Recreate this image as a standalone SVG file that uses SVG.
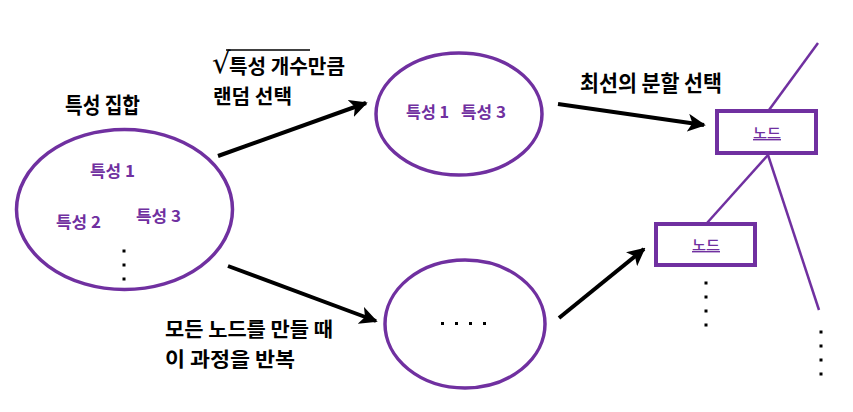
<svg xmlns="http://www.w3.org/2000/svg" width="853" height="412" viewBox="0 0 853 412">
<defs>
<style>
.ell{fill:none;stroke:#7030A0;stroke-width:3.5}
.box{fill:#fff;stroke:#7030A0;stroke-width:4}
.br{stroke:#7030A0;stroke-width:2.5;fill:none}
.arr{stroke:#000;stroke-width:4;fill:none;marker-end:url(#ah)}
.t{font-family:"Noto Sans CJK KR","Noto Sans",sans-serif;font-weight:bold;font-size:22px;fill:#000}
.t2{font-family:"Noto Sans CJK KR","Noto Sans",sans-serif;font-weight:bold;font-size:20px;fill:#000}
.p{font-family:"Noto Sans CJK KR","Noto Sans",sans-serif;font-weight:bold;font-size:16px;fill:#7030A0}
.n{font-family:"Noto Sans CJK KR","Noto Sans",sans-serif;font-weight:500;font-size:14px;fill:#7030A0;text-decoration:underline}
.dot{fill:#000}
</style>
<marker id="ah" viewBox="0 0 10 10" refX="9" refY="5" markerWidth="4.5" markerHeight="4.5" orient="auto" markerUnits="strokeWidth">
<path d="M0,0 L10,5 L0,10 L2.5,5 Z" fill="#000"/>
</marker>
</defs>
<rect width="853" height="412" fill="#fff"/>

<g id="connectors">
<line class="arr" x1="218" y1="156" x2="366" y2="103"/>
<line class="arr" x1="228" y1="266" x2="376" y2="321"/>
<line class="arr" x1="558" y1="104" x2="704" y2="125"/>
<line class="arr" x1="559" y1="318" x2="644" y2="249"/>
<line class="br" x1="818" y1="43" x2="769" y2="110"/>
<line class="br" x1="768" y1="155" x2="707" y2="223"/>
<line class="br" x1="768" y1="155" x2="819" y2="310"/>
</g>

<g id="feature-set">
<text class="t" x="65" y="113" textLength="75" lengthAdjust="spacingAndGlyphs">특성 집합</text>
<ellipse class="ell" cx="124.5" cy="209.5" rx="108" ry="80"/>
<text class="p" x="90" y="177" textLength="45" lengthAdjust="spacingAndGlyphs">특성 1</text>
<text class="p" x="56" y="228" textLength="45" lengthAdjust="spacingAndGlyphs">특성 2</text>
<text class="p" x="136" y="222" textLength="45" lengthAdjust="spacingAndGlyphs">특성 3</text>
<rect class="dot" x="122.5" y="249.5" width="3" height="3"/>
<rect class="dot" x="122.5" y="263.5" width="3" height="3"/>
<rect class="dot" x="122.5" y="277.5" width="3" height="3"/>
</g>

<g id="label-random">
<text x="212" y="73" style="font-family:'DejaVu Sans',sans-serif;font-size:29px;fill:#000">√</text>
<line x1="226" y1="50" x2="310" y2="50" stroke="#000" stroke-width="1.3"/>
<text class="t2" x="229" y="74" textLength="116" lengthAdjust="spacingAndGlyphs">특성 개수만큼</text>
<text class="t2" x="213" y="104" textLength="79" lengthAdjust="spacingAndGlyphs">랜덤 선택</text>
</g>

<g id="subset">
<ellipse class="ell" cx="459" cy="114" rx="83" ry="61"/>
<text class="p" x="406" y="118" textLength="43" lengthAdjust="spacingAndGlyphs">특성 1</text>
<text class="p" x="461" y="118" textLength="45" lengthAdjust="spacingAndGlyphs">특성 3</text>
</g>

<g id="other-subset">
<ellipse class="ell" cx="465" cy="324" rx="80" ry="64"/>
<rect class="dot" x="441" y="322" width="3" height="3"/>
<rect class="dot" x="455" y="322" width="3" height="3"/>
<rect class="dot" x="469" y="322" width="3" height="3"/>
<rect class="dot" x="483" y="322" width="3" height="3"/>
</g>

<g id="label-split">
<text class="t" x="580" y="91" textLength="142" lengthAdjust="spacingAndGlyphs">최선의 분할 선택</text>
</g>

<g id="label-repeat">
<text class="t2" x="165" y="337" textLength="168" lengthAdjust="spacingAndGlyphs">모든 노드를 만들 때</text>
<text class="t2" x="165" y="367" textLength="130" lengthAdjust="spacingAndGlyphs">이 과정을 반복</text>
</g>

<g id="node1">
<rect class="box" x="717" y="111" width="99" height="42"/>
<text class="n" x="767" y="138" text-anchor="middle" textLength="28" lengthAdjust="spacingAndGlyphs">노드</text>
</g>

<g id="node2">
<rect class="box" x="656" y="224" width="99" height="41"/>
<text class="n" x="706" y="250" text-anchor="middle" textLength="28" lengthAdjust="spacingAndGlyphs">노드</text>
<rect class="dot" x="704.5" y="281.5" width="3" height="3"/>
<rect class="dot" x="704.5" y="295.5" width="3" height="3"/>
<rect class="dot" x="704.5" y="309.5" width="3" height="3"/>
<rect class="dot" x="704.5" y="323.5" width="3" height="3"/>
</g>

<g id="more">
<rect class="dot" x="819.5" y="330.5" width="3" height="3"/>
<rect class="dot" x="819.5" y="344.5" width="3" height="3"/>
<rect class="dot" x="819.5" y="358.5" width="3" height="3"/>
<rect class="dot" x="819.5" y="372.5" width="3" height="3"/>
</g>
</svg>
